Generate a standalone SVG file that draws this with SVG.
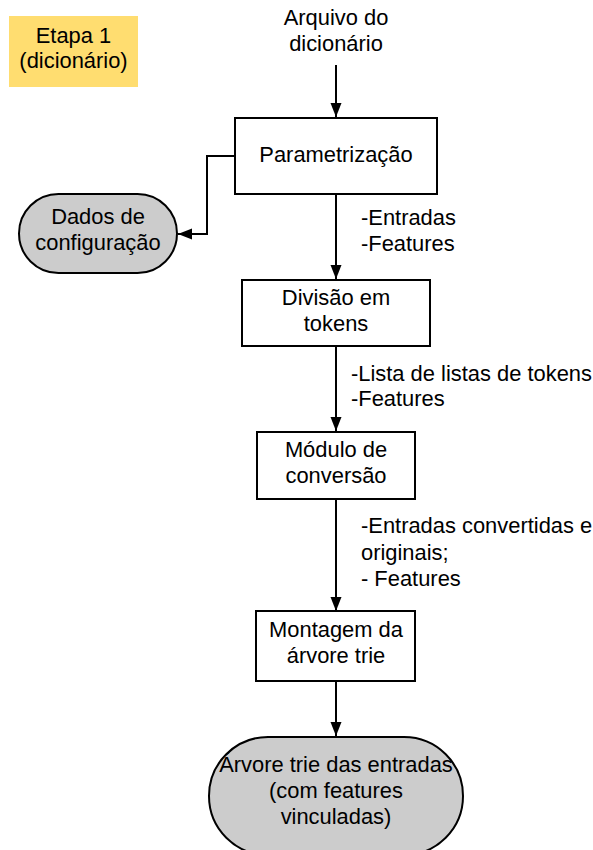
<svg xmlns="http://www.w3.org/2000/svg" width="593" height="850" viewBox="0 0 593 850">
  <style>
    text { font-family: "Liberation Sans", Arial, sans-serif; font-size: 21.9px; fill: #000; }
    .c { text-anchor: middle; }
    .box { fill: #fff; stroke: #000; stroke-width: 2; }
    .term { fill: #ccc; stroke: #000; stroke-width: 2; }
    .edge { fill: none; stroke: #000; stroke-width: 2; }
  </style>
  <defs>
    <marker id="arrow" markerUnits="userSpaceOnUse" markerWidth="16" markerHeight="12" refX="14" refY="6" orient="auto">
      <path d="M0,0.5 L14,6 L0,11.5 Z" fill="#000"/>
    </marker>
  </defs>

  <rect width="593" height="850" fill="#fff"/>

  <!-- stage label -->
  <g id="stage">
    <rect x="9" y="16" width="129" height="71" fill="#ffdd70"/>
    <text class="c" x="73.5" y="43">Etapa 1</text>
    <text class="c" x="73.5" y="68">(dicionário)</text>
  </g>

  <!-- input -->
  <g id="input">
    <text class="c" x="336" y="25">Arquivo do</text>
    <text class="c" x="336" y="51">dicionário</text>
  </g>

  <!-- connectors -->
  <g id="connectors">
    <path class="edge" d="M336,65 V117" marker-end="url(#arrow)"/>
    <path class="edge" d="M235,156 H207 V234 H178" marker-end="url(#arrow)"/>
    <path class="edge" d="M336,194 V279" marker-end="url(#arrow)"/>
    <path class="edge" d="M336,346 V431" marker-end="url(#arrow)"/>
    <path class="edge" d="M336,499 V611" marker-end="url(#arrow)"/>
    <path class="edge" d="M336,681 V736" marker-end="url(#arrow)"/>
  </g>

  <!-- edge labels -->
  <g id="labels">
    <text x="361" y="225">-Entradas</text>
    <text x="361" y="251">-Features</text>
    <text x="351" y="381">-Lista de listas de tokens</text>
    <text x="351" y="406">-Features</text>
    <text x="361" y="533">-Entradas convertidas e</text>
    <text x="361" y="560">originais;</text>
    <text x="361" y="586">- Features</text>
  </g>

  <g id="param">
    <rect class="box" x="235" y="118" width="202" height="76"/>
    <text class="c" x="336" y="162">Parametrização</text>
  </g>

  <g id="config">
    <rect class="term" x="19" y="194" width="158" height="79" rx="39.5" ry="39.5"/>
    <text class="c" x="98" y="224">Dados de</text>
    <text class="c" x="98" y="250">configuração</text>
  </g>

  <g id="tokens">
    <rect class="box" x="242" y="280" width="188" height="66"/>
    <text class="c" x="336" y="305">Divisão em</text>
    <text class="c" x="336" y="331">tokens</text>
  </g>

  <g id="conv">
    <rect class="box" x="257" y="432" width="158" height="67"/>
    <text class="c" x="336" y="457">Módulo de</text>
    <text class="c" x="336" y="483">conversão</text>
  </g>

  <g id="build">
    <rect class="box" x="256" y="611" width="159" height="70"/>
    <text class="c" x="336" y="637">Montagem da</text>
    <text class="c" x="336" y="663">árvore trie</text>
  </g>

  <g id="trie">
    <rect class="term" x="209" y="737" width="254" height="118" rx="59" ry="59"/>
    <text class="c" x="336" y="772">Árvore trie das entradas</text>
    <text class="c" x="336" y="798">(com features</text>
    <text class="c" x="336" y="824">vinculadas)</text>
  </g>
</svg>
